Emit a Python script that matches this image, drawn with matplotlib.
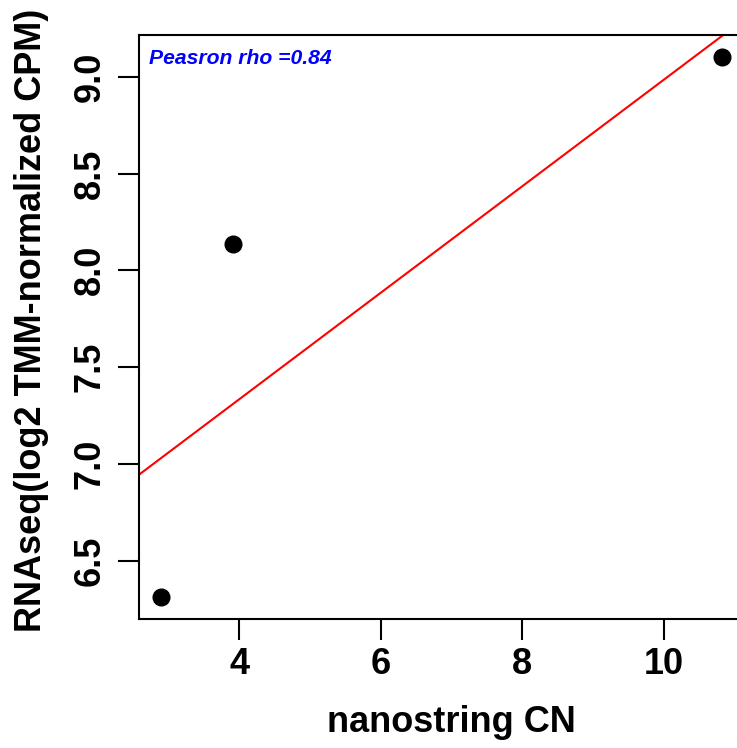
import numpy as np
import matplotlib
matplotlib.use("Agg")
import matplotlib.pyplot as plt

plt.rcParams['font.family'] = ['Liberation Sans', 'DejaVu Sans']

# nanostring copy number vs RNAseq expression
nanostring_cn = [2.90, 3.91, 10.82]
rnaseq_cpm = [6.31, 8.135, 9.104]
rho_text = "Peasron rho =0.84"

x = np.array(nanostring_cn)
y = np.array(rnaseq_cpm)

fig = plt.figure(figsize=(7.37, 7.48), dpi=100)
ax = fig.add_axes([0.1886, 0.1725, 0.8209, 0.7807])

# R-style 4% padding around data range
xr = x.max() - x.min()
yr = y.max() - y.min()
ax.set_xlim(x.min() - 0.04 * xr, x.max() + 0.04 * xr)
ax.set_ylim(y.min() - 0.04 * yr, y.max() + 0.04 * yr)

ax.plot(x, y, 'o', color='black', markersize=12)

# lm fit line (abline)
slope, intercept = np.polyfit(x, y, 1)
xx = np.array(ax.get_xlim())
ax.plot(xx, intercept + slope * xx, color='red', linewidth=1.5)
ax.set_xlim(xx)

ax.text(0.017, 0.96, rho_text, transform=ax.transAxes, color='blue',
        fontsize=15.2, fontweight='bold', fontstyle='italic', va='center', ha='left')

ax.set_xticks([4, 6, 8, 10])
ax.set_yticks([6.5, 7.0, 7.5, 8.0, 8.5, 9.0])
ax.set_xticklabels(['4', '6', '8', '10'], fontsize=26, fontweight='bold')
ax.set_yticklabels(['6.5', '7.0', '7.5', '8.0', '8.5', '9.0'], fontsize=26,
                   fontweight='bold', rotation=90, va='center')
ax.tick_params(axis='both', length=15, width=1.5)
ax.tick_params(axis='x', pad=5.5)
ax.tick_params(axis='y', pad=7.5)

for s in ax.spines.values():
    s.set_linewidth(1.5)

ax.set_xlabel("nanostring CN", fontsize=26, fontweight='bold')
ax.set_ylabel("RNAseq(log2 TMM-normalized CPM)", fontsize=26, fontweight='bold')
ax.yaxis.set_label_coords(-0.149, 0.511)
ax.xaxis.set_label_coords(0.516, -0.147)

fig.savefig("out.png", dpi=100)
